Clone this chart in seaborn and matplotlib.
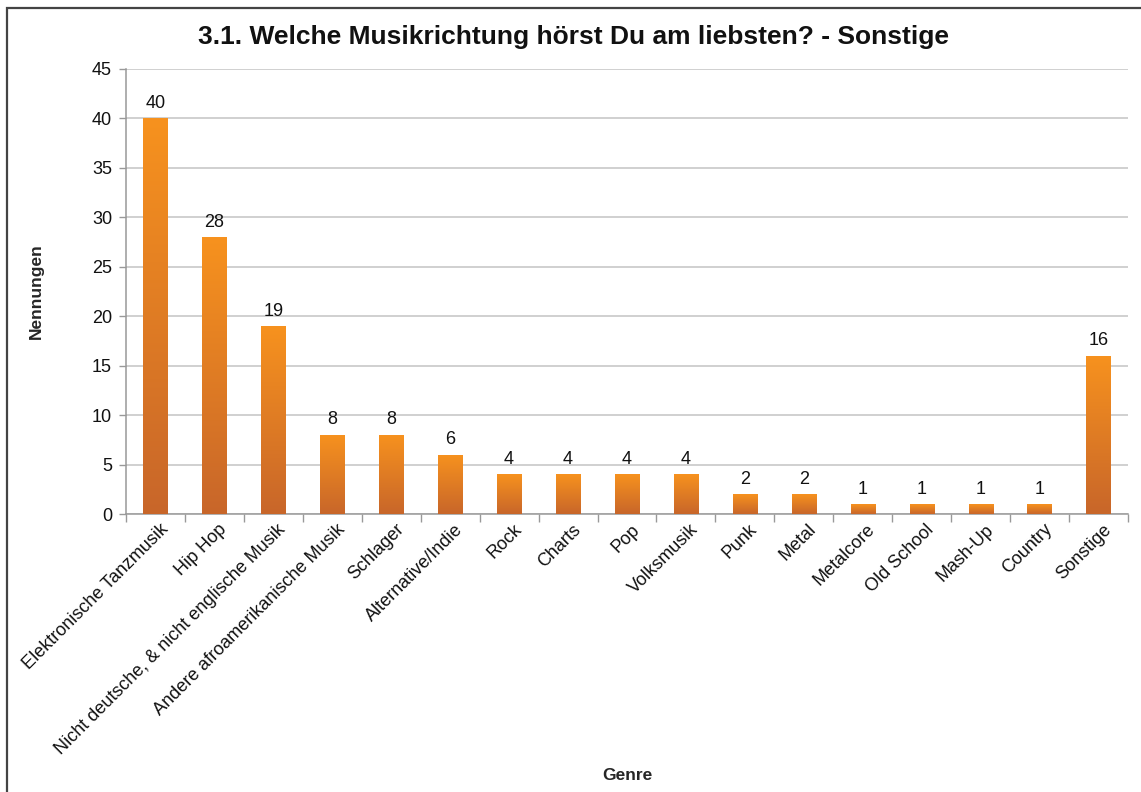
import numpy as np
import pandas as pd
import matplotlib
matplotlib.use("Agg")
import matplotlib.pyplot as plt
import matplotlib.transforms as mtransforms
from matplotlib import font_manager
from matplotlib.colors import LinearSegmentedColormap
from matplotlib.patches import Rectangle
import seaborn as sns

genres = [
    "Elektronische Tanzmusik", "Hip Hop", "Nicht deutsche, & nicht englische Musik",
    "Andere afroamerikanische Musik", "Schlager", "Alternative/Indie", "Rock", "Charts",
    "Pop", "Volksmusik", "Punk", "Metal", "Metalcore", "Old School", "Mash-Up",
    "Country", "Sonstige",
]
nennungen = [40, 28, 19, 8, 8, 6, 4, 4, 4, 4, 2, 2, 1, 1, 1, 1, 16]
y_ticks = [0, 5, 10, 15, 20, 25, 30, 35, 40, 45]

title = "3.1. Welche Musikrichtung hörst Du am liebsten? - Sonstige"

df = pd.DataFrame({"Genre": genres, "Nennungen": nennungen})

sns.set_theme(style="white")

# pick the regular-width Liberation Sans files explicitly
reg_path, bold_path = None, None
for f in font_manager.fontManager.ttflist:
    if f.name == "Liberation Sans" and f.style == "normal":
        if f.weight in (400, "normal", "regular") and reg_path is None:
            reg_path = f.fname
        elif f.weight in (700, "bold") and bold_path is None:
            bold_path = f.fname
if reg_path:
    fp = font_manager.FontProperties(fname=reg_path)
else:
    fp = font_manager.FontProperties(family="Liberation Sans")
if bold_path:
    fpb = font_manager.FontProperties(fname=bold_path)
else:
    fpb = font_manager.FontProperties(family="Liberation Sans", weight="bold")

plt.rcParams["font.family"] = ["Liberation Sans", "DejaVu Sans"]

FS = 13

fig = plt.figure(figsize=(11.41, 7.92), dpi=100)
ax = fig.add_axes([0.1104, 0.351, 0.8782, 0.5619])

sns.barplot(data=df, x="Genre", y="Nennungen", color="#F08A24", width=0.41,
            ax=ax, zorder=3)

# vertical gradient fill on each bar, clipped to the bar shape
grad = LinearSegmentedColormap.from_list("bar", ["#C8662A", "#F7921E"])
gimg = np.linspace(0, 1, 256).reshape(-1, 1)
for patch in ax.patches:
    x0, y0 = patch.get_x(), patch.get_y()
    w, h = patch.get_width(), patch.get_height()
    patch.set_facecolor("none")
    patch.set_edgecolor("none")
    im = ax.imshow(gimg, cmap=grad, aspect="auto", origin="lower",
                   extent=[x0, x0 + w, y0, y0 + h], zorder=3)
    im.set_clip_path(patch)
    ax.text(x0 + w / 2, y0 + h + 0.65, f"{int(round(h))}", ha="center",
            va="bottom", fontproperties=fp, fontsize=FS, color="#111111", zorder=4)

ax.set_xlim(-0.5, len(genres) - 0.5)
ax.set_ylim(0, 45)
ax.set_yticks(y_ticks)
ax.set_yticklabels([str(t) for t in y_ticks], fontproperties=fp, fontsize=FS,
                   color="#111111")
ax.yaxis.grid(True, color="#C4C4C4", linewidth=1.1, zorder=0)
ax.set_axisbelow(True)

# category ticks sit between bars
ax.set_xticks(range(len(genres)))
ax.set_xticklabels(genres, rotation=45, ha="right", rotation_mode="anchor",
                   fontproperties=fp, fontsize=FS, color="#111111")
ax.tick_params(axis="x", length=0, pad=5)
shift = mtransforms.ScaledTranslation(4 / 100, 0, fig.dpi_scale_trans)
for lbl in ax.get_xticklabels():
    lbl.set_transform(lbl.get_transform() + shift)
ax.set_xticks(np.arange(-0.5, len(genres), 1.0), minor=True)
ax.tick_params(axis="x", which="minor", length=6, color="#999999", width=1,
               direction="out", bottom=True)
ax.tick_params(axis="y", length=5, color="#999999", width=1, direction="out",
               left=True, pad=5)

for side in ["top", "right"]:
    ax.spines[side].set_visible(False)
for side in ["left", "bottom"]:
    ax.spines[side].set_color("#999999")
    ax.spines[side].set_linewidth(1.1)

ax.set_xlabel("Genre", fontproperties=fpb, fontsize=12.5, labelpad=0)
ax.xaxis.set_label_coords(0.5, -0.57)
ax.set_ylabel("Nennungen", fontproperties=fpb, fontsize=12.5)
ax.yaxis.set_label_coords(-0.0815, 0.5)

fig.text(0.503, 0.953, title, ha="center", va="center", fontproperties=fpb,
         fontsize=19, color="#111111")

# outer chart frame
fig.patches.append(Rectangle((7 / 1141, -0.05), 1.2, 1 - 8 / 792 + 0.05,
                             transform=fig.transFigure, fill=False,
                             edgecolor="#444444", linewidth=1.6))

fig.savefig("out.png", dpi=100)
